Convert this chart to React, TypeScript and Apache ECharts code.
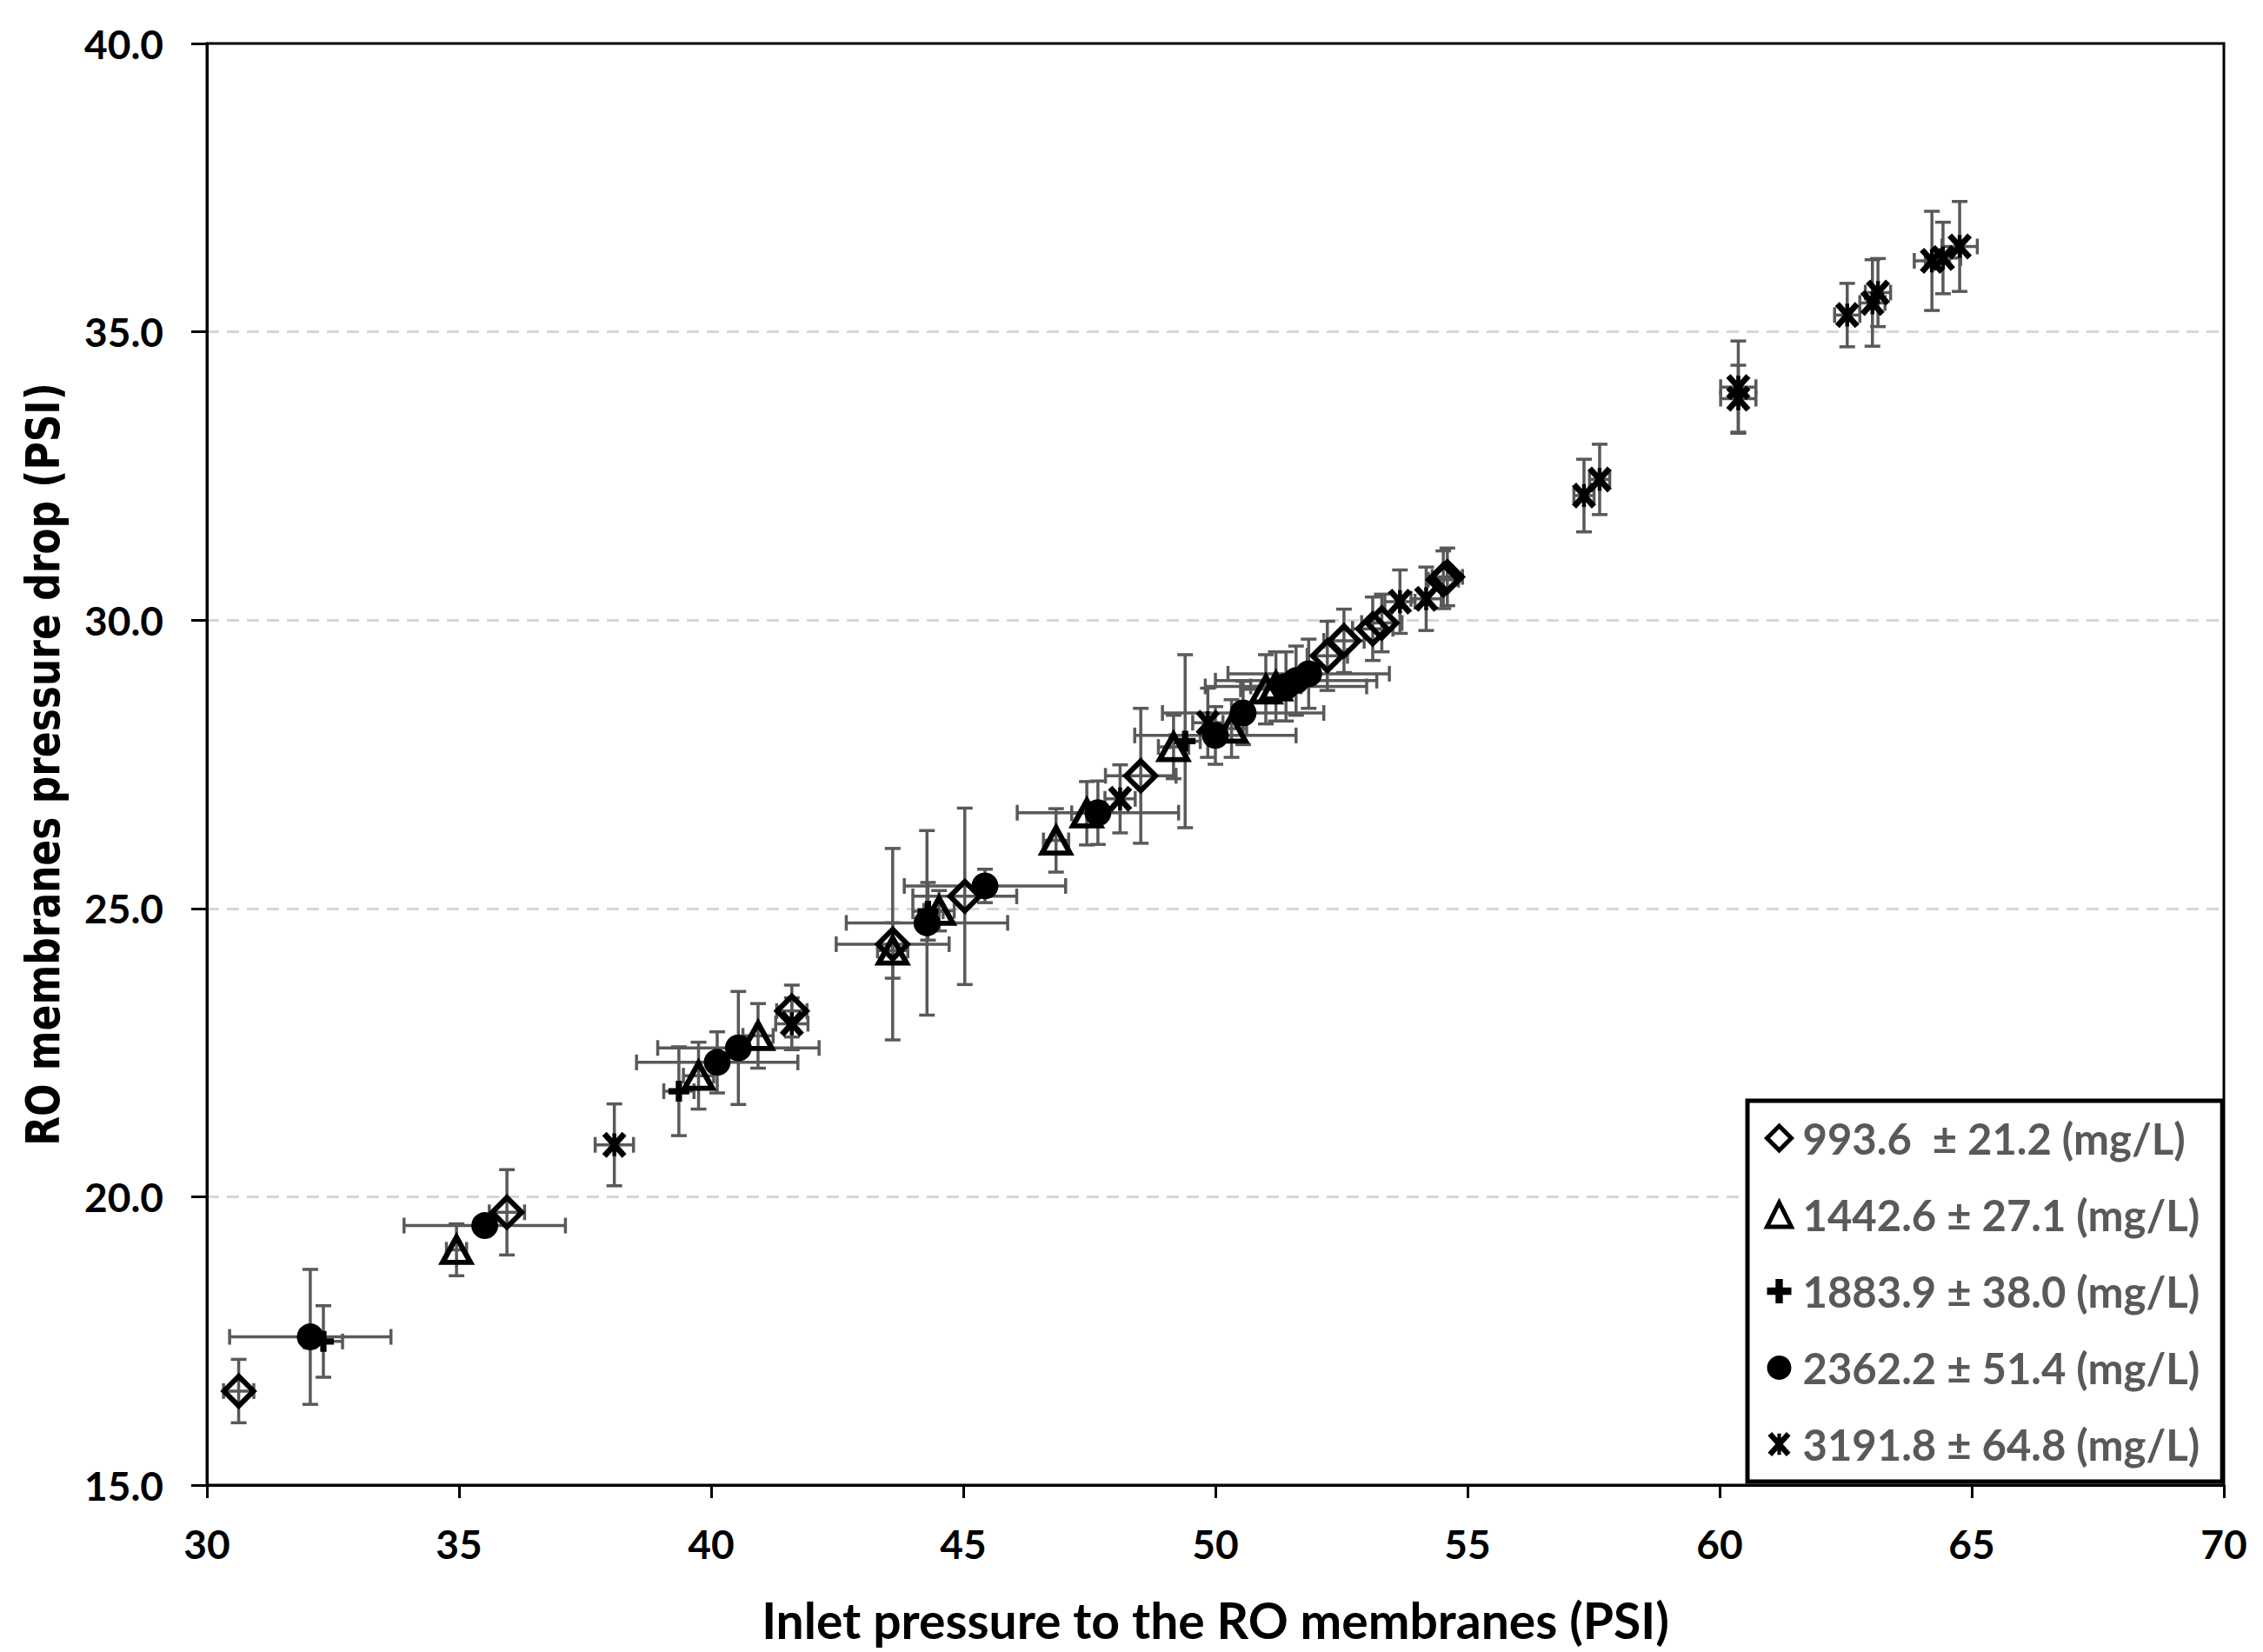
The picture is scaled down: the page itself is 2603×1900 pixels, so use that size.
import React, { useEffect, useRef } from "react";
import * as echarts from "echarts";

// Series names (legend)
const seriesNames = [
  "993.6  ± 21.2 (mg/L)",
  "1442.6 ± 27.1 (mg/L)",
  "1883.9 ± 38.0 (mg/L)",
  "2362.2 ± 51.4 (mg/L)",
  "3191.8 ± 64.8 (mg/L)",
];

// Each point: [inlet pressure, pressure drop, x error, y error]
const diamondData = [
  [30.63, 16.63, 0.3, 0.55],
  [35.95, 19.73, 0.35, 0.74],
  [41.6, 23.22, 0.3, 0.45],
  [43.6, 24.38, 1.12, 1.66],
  [45.03, 25.21, 1.03, 1.53],
  [48.52, 27.3, 0.7, 1.17],
  [52.22, 29.38, 0.4, 0.6],
  [52.55, 29.64, 0.4, 0.55],
  [53.12, 29.85, 0.4, 0.55],
  [53.3, 29.95, 0.4, 0.5],
  [54.52, 30.7, 0.3, 0.5],
  [54.6, 30.75, 0.3, 0.5],
];

const triangleData = [
  [34.95, 19.08, 0.2, 0.45],
  [39.75, 22.1, 0.3, 0.58],
  [40.93, 22.79, 0.3, 0.56],
  [43.6, 24.27, 0.3, 0.48],
  [44.52, 24.96, 0.3, 0.35],
  [46.84, 26.18, 0.25, 0.55],
  [47.45, 26.65, 0.3, 0.55],
  [49.17, 27.8, 0.3, 0.55],
  [50.32, 28.12, 0.3, 0.5],
  [51.0, 28.8, 0.5, 0.6],
  [51.2, 28.85, 0.5, 0.6],
];

const plusData = [
  [32.31, 17.49, 0.38, 0.62],
  [39.36, 21.83, 0.3, 0.77],
  [44.3, 24.95, 0.3, 0.5],
  [49.4, 27.9, 0.3, 1.5],
];

const circleData = [
  [32.05, 17.57, 1.6, 1.17],
  [35.51, 19.5, 1.6, 0.15],
  [40.12, 22.33, 1.6, 0.53],
  [40.54, 22.58, 1.6, 0.98],
  [44.28, 24.75, 1.6, 1.6],
  [45.43, 25.39, 1.6, 0.29],
  [47.67, 26.66, 1.6, 0.55],
  [50.0, 28.0, 1.6, 0.5],
  [50.55, 28.39, 1.6, 0.55],
  [51.4, 28.85, 1.6, 0.6],
  [51.6, 28.95, 1.6, 0.6],
  [51.85, 29.07, 1.6, 0.6],
];

const asteriskData = [
  [38.08, 20.9, 0.38, 0.71],
  [41.6, 23.0, 0.32, 0.45],
  [48.11, 26.9, 0.3, 0.59],
  [49.85, 28.22, 0.3, 0.6],
  [53.66, 30.32, 0.3, 0.55],
  [54.18, 30.37, 0.3, 0.55],
  [57.31, 32.16, 0.2, 0.63],
  [57.62, 32.44, 0.2, 0.61],
  [60.37, 34.04, 0.35, 0.8],
  [60.37, 33.84, 0.35, 0.58],
  [62.53, 35.29, 0.25, 0.55],
  [63.03, 35.5, 0.25, 0.75],
  [63.14, 35.68, 0.25, 0.59],
  [64.21, 36.23, 0.35, 0.86],
  [64.43, 36.28, 0.35, 0.62],
  [64.76, 36.48, 0.35, 0.78],
];

const xAxisMin = 30;
const xAxisMax = 70;
const xAxisStep = 5;
const yAxisMin = 15;
const yAxisMax = 40;
const yAxisStep = 5;

const xTitle = "Inlet pressure to the RO membranes (PSI)";
const yTitle = "RO membranes pressure drop (PSI)";

function barPoly(angleDeg: number, half: number, w: number) {
  const a = (angleDeg * Math.PI) / 180;
  const c = Math.cos(a);
  const s = Math.sin(a);
  const pts = [
    [-half, -w],
    [half, -w],
    [half, w],
    [-half, w],
  ].map(([u, v]) => [u * c - v * s, u * s + v * c]);
  return "M" + pts.map((p) => p[0].toFixed(3) + "," + p[1].toFixed(3)).join("L") + "Z";
}

const asteriskSymbol =
  "path://" + barPoly(90, 10, 1.7) + barPoly(48, 13, 2.6) + barPoly(-48, 13, 2.6);
const plusSymbol =
  "path://M-1.8,-6L1.8,-6L1.8,-1.8L6,-1.8L6,1.8L1.8,1.8L1.8,6L-1.8,6L-1.8,1.8L-6,1.8L-6,-1.8L-1.8,-1.8Z";

const FONT = "Lato, 'Liberation Sans', sans-serif";

export default function App() {
  const ref = useRef<HTMLDivElement>(null);

  useEffect(() => {
    document.body.style.margin = "0";
    if (!ref.current) return;
    const chart = echarts.init(ref.current, undefined, { renderer: "svg" });

    const allErr = [
      ...diamondData,
      ...triangleData,
      ...plusData,
      ...circleData,
      ...asteriskData,
    ];

    const errStyle = { stroke: "#595959", lineWidth: 3.5, fill: "none" };
    const cap = 9;

    const hollow = (c: string) => ({
      color: "rgba(255,255,255,0)",
      borderColor: c,
      borderWidth: 6,
      opacity: 1,
    });
    const solid = { color: "#000", opacity: 1 };

    const legendData = seriesNames.map((name, i) =>
      i < 2
        ? { name, itemStyle: { borderWidth: 5, borderColor: "#000", color: "rgba(255,255,255,0)" } }
        : { name }
    );

    const option: any = {
      animation: false,
      backgroundColor: "#ffffff",
      grid: {
        show: true,
        left: 238,
        top: 50,
        right: 45,
        bottom: 192,
        borderColor: "#000",
        borderWidth: 3,
        backgroundColor: "rgba(0,0,0,0)",
        z: 5,
      },
      xAxis: {
        type: "value",
        min: xAxisMin,
        max: xAxisMax,
        interval: xAxisStep,
        axisLine: { show: true, onZero: false, lineStyle: { color: "#000", width: 3 } },
        axisTick: { show: true, length: 15, lineStyle: { color: "#000", width: 3 } },
        axisLabel: {
          margin: 44,
          color: "#000",
          fontFamily: FONT,
          fontWeight: "bold",
          fontSize: 46,
        },
        splitLine: { show: false },
      },
      yAxis: {
        type: "value",
        min: yAxisMin,
        max: yAxisMax,
        interval: yAxisStep,
        axisLine: { show: true, onZero: false, lineStyle: { color: "#000", width: 3 } },
        axisTick: { show: true, length: 18, lineStyle: { color: "#000", width: 3 } },
        axisLabel: {
          margin: 50,
          color: "#000",
          fontFamily: FONT,
          fontWeight: "bold",
          fontSize: 46,
          formatter: (v: number) => v.toFixed(1),
        },
        splitLine: {
          show: true,
          showMinLine: false,
          showMaxLine: false,
          lineStyle: { color: "#d6d6d6", width: 3, type: [14, 9] },
        },
      },
      legend: {
        data: legendData,
        orient: "vertical",
        left: 2010,
        top: 1266,
        padding: [17, 26, 17, 20],
        itemGap: 36,
        itemWidth: 28,
        itemHeight: 28,
        borderColor: "#000",
        borderWidth: 5,
        backgroundColor: "#fff",
        textStyle: {
          fontFamily: FONT,
          fontSize: 49,
          fontWeight: "bold",
          color: "#595959",
          lineHeight: 52,
          padding: [0, 0, 0, 8],
        },
      },
      graphic: [
        {
          type: "text",
          x: 50,
          y: 879,
          rotation: Math.PI / 2,
          scaleY: 1.2,
          style: {
            text: yTitle,
            font: "bold 44px 'DejaVu Sans', sans-serif",
            fill: "#000",
            textAlign: "center",
            textVerticalAlign: "middle",
          },
        },
        {
          type: "text",
          x: 1398,
          y: 1863,
          style: {
            text: xTitle,
            font: "bold 57px " + FONT,
            fill: "#000",
            textAlign: "center",
            textVerticalAlign: "middle",
          },
        },
      ],
      series: [
        {
          type: "custom",
          name: "errorbars",
          silent: true,
          z: 1,
          encode: { x: 0, y: 1 },
          data: allErr,
          renderItem: (params: any, api: any) => {
            const x = api.value(0);
            const y = api.value(1);
            const xe = api.value(2);
            const ye = api.value(3);
            const c = api.coord([x, y]);
            const l = api.coord([x - xe, y])[0];
            const r = api.coord([x + xe, y])[0];
            const t = api.coord([x, y + ye])[1];
            const b = api.coord([x, y - ye])[1];
            return {
              type: "group",
              children: [
                { type: "line", shape: { x1: l, y1: c[1], x2: r, y2: c[1] }, style: errStyle },
                { type: "line", shape: { x1: l, y1: c[1] - cap, x2: l, y2: c[1] + cap }, style: errStyle },
                { type: "line", shape: { x1: r, y1: c[1] - cap, x2: r, y2: c[1] + cap }, style: errStyle },
                { type: "line", shape: { x1: c[0], y1: t, x2: c[0], y2: b }, style: errStyle },
                { type: "line", shape: { x1: c[0] - cap, y1: t, x2: c[0] + cap, y2: t }, style: errStyle },
                { type: "line", shape: { x1: c[0] - cap, y1: b, x2: c[0] + cap, y2: b }, style: errStyle },
              ],
            };
          },
        },
        {
          type: "scatter",
          name: seriesNames[0],
          z: 3,
          symbol: "diamond",
          symbolSize: 34,
          itemStyle: hollow("#000"),
          data: diamondData.map((d) => [d[0], d[1]]),
        },
        {
          type: "scatter",
          name: seriesNames[1],
          z: 3,
          symbol: "triangle",
          symbolSize: [32, 29],
          itemStyle: hollow("#000"),
          data: triangleData.map((d) => [d[0], d[1]]),
        },
        {
          type: "scatter",
          name: seriesNames[2],
          z: 3,
          symbol: plusSymbol,
          symbolSize: 24,
          itemStyle: solid,
          data: plusData.map((d) => [d[0], d[1]]),
        },
        {
          type: "scatter",
          name: seriesNames[3],
          z: 3,
          symbol: "circle",
          symbolSize: 31,
          itemStyle: solid,
          data: circleData.map((d) => [d[0], d[1]]),
        },
        {
          type: "scatter",
          name: seriesNames[4],
          z: 3,
          symbol: asteriskSymbol,
          symbolSize: [28, 30],
          itemStyle: solid,
          data: asteriskData.map((d) => [d[0], d[1]]),
        },
      ],
    };

    chart.setOption(option);
    return () => {
      chart.dispose();
    };
  }, []);

  return <div ref={ref} style={{ width: 2603, height: 1900 }} />;
}
